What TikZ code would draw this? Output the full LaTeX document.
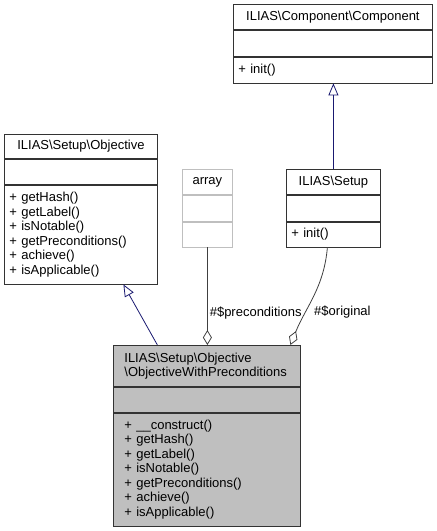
\documentclass[tikz,border=0pt]{standalone}
\usepackage{fontspec}
\setmainfont{Liberation Sans}
\usetikzlibrary{positioning}
\usetikzlibrary{arrows.meta}
\definecolor{midnight}{RGB}{25,25,112}
\definecolor{grey25}{RGB}{64,64,64}
\definecolor{grey75}{RGB}{191,191,191}
\newcommand{\umlfont}{\fontsize{13}{14.5}\selectfont}
\tikzstyle{umlpart}=[draw=black!80,line width=0.8pt,fill=white,inner xsep=5pt,inner ysep=2pt,anchor=north west,font=\umlfont]
\tikzstyle{umlcur}=[umlpart,fill=grey75,inner xsep=11pt]
\tikzstyle{umlext}=[umlpart,draw=grey75]
\tikzstyle{inherit}=[draw=midnight,line width=0.8pt,-{Triangle[open,length=12pt,width=10pt]}]
\tikzstyle{aggreg}=[draw=grey25,line width=0.8pt,-{Diamond[open,length=15pt,width=9pt]}]
\tikzstyle{rolelbl}=[font=\umlfont,inner sep=2pt]

\begin{document}
\begin{tikzpicture}[x=1pt,y=-1pt]
				
				\useasboundingbox (0,0) rectangle (437,531);
				
				% ILIAS\Component\Component
				\node [umlpart, minimum width=199pt, text width=189pt, align=center, minimum height=25pt] (compT) at (233,4) {ILIAS\textbackslash Component\textbackslash Component};
				\node [umlpart, minimum width=199pt, minimum height=26pt, below=0pt of compT] (compA) {};
				\node [umlpart, text width=189pt, align=left, minimum height=26pt, below=0pt of compA] (compM) {+ init()};
				
				% ILIAS\Setup\Objective
				\node [umlpart, minimum width=153pt, text width=143pt, align=center, minimum height=24pt] (objT) at (4,134) {ILIAS\textbackslash Setup\textbackslash Objective};
				\node [umlpart, minimum width=153pt, minimum height=25pt, below=0pt of objT] (objA) {};
				\node [umlpart, text width=143pt, align=left, minimum height=99pt, below=0pt of objA] (objM) {+ getHash()\\+ getLabel()\\+ isNotable()\\+ getPreconditions()\\+ achieve()\\+ isApplicable()};
				
				% array
				\node [umlext, minimum width=50pt, text width=40pt, align=center, minimum height=25pt] (arrT) at (182,169) {array};
				\node [umlext, minimum width=50pt, minimum height=26pt, below=0pt of arrT] (arrA) {};
				\node [umlext, minimum width=50pt, minimum height=25pt, below=0pt of arrA] (arrM) {};
				
				% ILIAS\Setup
				\node [umlpart, minimum width=94pt, text width=84pt, align=center, minimum height=25pt] (setupT) at (286,169) {ILIAS\textbackslash Setup};
				\node [umlpart, minimum width=94pt, minimum height=26pt, below=0pt of setupT] (setupA) {};
				\node [umlpart, text width=84pt, align=left, minimum height=25pt, below=0pt of setupA] (setupM) {+ init()};
				
				% ILIAS\Setup\Objective\ObjectiveWithPreconditions
				\node [umlcur, minimum width=187pt, text width=165pt, align=left, minimum height=41pt] (mainT) at (113,345) {ILIAS\textbackslash Setup\textbackslash Objective\\\textbackslash ObjectiveWithPreconditions};
				\node [umlcur, minimum width=187pt, minimum height=25pt, below=0pt of mainT] (mainA) {};
				\node [umlcur, text width=165pt, align=left, minimum height=113pt, below=0pt of mainA] (mainM) {+ \_\_construct()\\+ getHash()\\+ getLabel()\\+ isNotable()\\+ getPreconditions()\\+ achieve()\\+ isApplicable()};
				
				
				\draw [inherit] ([xshift=-49.5pt]mainT.north) -- ([xshift=42.5pt]objM.south);
				\draw [inherit] (setupT.north) -- (setupT.north |- compM.south);
				
				\draw [aggreg] (arrM.south) -- node [rolelbl, anchor=west, pos=0.67] (precLbl) {\#\$preconditions} (arrM.south |- mainT.north);
				\draw [aggreg] ([xshift=-6pt]setupM.south) to [out=-95,in=68] node [rolelbl, anchor=west, pos=0.67, xshift=6pt] (origLbl) {\#\$original} ([xshift=83.5pt]mainT.north);
				
\end{tikzpicture}
\end{document}
